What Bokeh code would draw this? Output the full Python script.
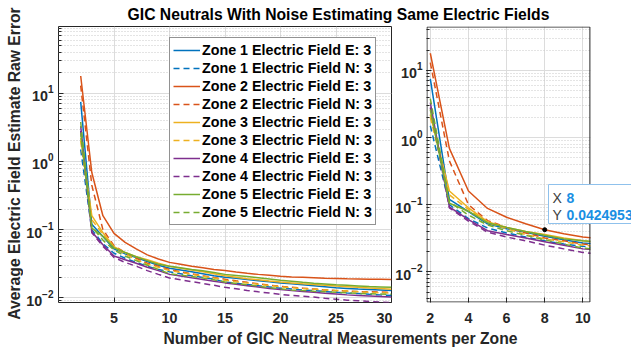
import math
from bokeh.plotting import figure
from bokeh.models import (Range1d, FixedTicker, Legend, LegendItem, Label, BoxAnnotation,
                          PolyAnnotation, ColumnDataSource)
from bokeh.layouts import column, row
from bokeh.embed import file_html
from bokeh.resources import INLINE

# ---------------- data ----------------
n_meas = list(range(2, 31))

zone1_E = [7.5, 0.12, 0.079, 0.052, 0.044, 0.039, 0.034, 0.030, 0.027,
           0.0255, 0.024, 0.0225, 0.021, 0.020, 0.0193, 0.0185, 0.0178, 0.0171, 0.0165,
           0.016, 0.0155, 0.015, 0.0145, 0.014, 0.0137, 0.0134, 0.0132, 0.013, 0.0128]
zone1_N = [1.5, 0.10, 0.062, 0.045, 0.038, 0.033, 0.029, 0.026, 0.024,
           0.0225, 0.021, 0.0198, 0.0187, 0.017, 0.0163, 0.0156, 0.015, 0.0144, 0.0138,
           0.0134, 0.013, 0.0127, 0.0123, 0.012, 0.0117, 0.0115, 0.0112, 0.011, 0.0108]
zone2_E = [18.0, 0.69, 0.16, 0.088, 0.065, 0.052, 0.0424953, 0.037, 0.033,
           0.031, 0.029, 0.0275, 0.026, 0.025, 0.0238, 0.0228, 0.022, 0.0213, 0.0206,
           0.0202, 0.0199, 0.0196, 0.0193, 0.0191, 0.0189, 0.0188, 0.0187, 0.0186, 0.0185]
zone2_N = [13.0, 0.45, 0.10, 0.058, 0.046, 0.038, 0.032, 0.029, 0.026,
           0.024, 0.0225, 0.021, 0.0198, 0.0187, 0.0177, 0.0168, 0.016, 0.0153, 0.0147,
           0.0142, 0.0138, 0.0134, 0.013, 0.0127, 0.0125, 0.0123, 0.0122, 0.0121, 0.012]
zone3_E = [2.2, 0.16, 0.09, 0.056, 0.046, 0.040, 0.036, 0.032, 0.029,
           0.027, 0.0255, 0.024, 0.0225, 0.021, 0.020, 0.019, 0.0183, 0.0176, 0.017,
           0.0165, 0.016, 0.0156, 0.0152, 0.0148, 0.0145, 0.0142, 0.0139, 0.0136, 0.0133]
zone3_N = [2.0, 0.14, 0.085, 0.054, 0.044, 0.036, 0.031, 0.028, 0.025,
           0.0235, 0.022, 0.0208, 0.0195, 0.018, 0.0172, 0.0165, 0.0158, 0.0151, 0.0145,
           0.014, 0.0136, 0.0133, 0.013, 0.0128, 0.0125, 0.0122, 0.012, 0.0118, 0.0117]
zone4_E = [3.3, 0.093, 0.060, 0.041, 0.036, 0.032, 0.028, 0.025, 0.022,
           0.0208, 0.0196, 0.0185, 0.0175, 0.0165, 0.0157, 0.015, 0.0143, 0.0137, 0.0132,
           0.0127, 0.0123, 0.012, 0.0116, 0.0113, 0.011, 0.0108, 0.0106, 0.0104, 0.0102]
zone4_N = [2.8, 0.09, 0.057, 0.039, 0.033, 0.029, 0.025, 0.022, 0.0195,
           0.0183, 0.0172, 0.0162, 0.0152, 0.0142, 0.0135, 0.0128, 0.0122, 0.0117, 0.0112,
           0.0108, 0.0105, 0.0102, 0.0098, 0.0095, 0.0092, 0.009, 0.0088, 0.0086, 0.0085]
zone5_E = [2.6, 0.105, 0.08, 0.054, 0.046, 0.040, 0.035, 0.031, 0.029,
           0.0275, 0.026, 0.0248, 0.0235, 0.022, 0.0212, 0.0204, 0.0196, 0.0188, 0.018,
           0.0174, 0.0168, 0.0163, 0.0159, 0.0155, 0.0152, 0.0149, 0.0146, 0.0144, 0.0142]
zone5_N = [3.8, 0.11, 0.07, 0.05, 0.041, 0.035, 0.030, 0.026, 0.0225,
           0.0215, 0.0205, 0.0195, 0.0183, 0.017, 0.0162, 0.0155, 0.0148, 0.0141, 0.0135,
           0.013, 0.0127, 0.0124, 0.0122, 0.012, 0.0118, 0.0116, 0.0114, 0.0113, 0.0112]

labels = ["Zone 1 Electric Field E: 3", "Zone 1 Electric Field N: 3",
          "Zone 2 Electric Field E: 3", "Zone 2 Electric Field N: 3",
          "Zone 3 Electric Field E: 3", "Zone 3 Electric Field N: 3",
          "Zone 4 Electric Field E: 3", "Zone 4 Electric Field N: 3",
          "Zone 5 Electric Field E: 3", "Zone 5 Electric Field N: 3"]
values = [zone1_E, zone1_N, zone2_E, zone2_N, zone3_E, zone3_N,
          zone4_E, zone4_N, zone5_E, zone5_N]
colors = ["#0072BD", "#0072BD", "#D95319", "#D95319", "#EDB120", "#EDB120",
          "#7E2F8E", "#7E2F8E", "#77AC30", "#77AC30"]
dashes = ["solid", "6 4"] * 5

left_xlim = (0, 30)
left_ylim = (0.0085, 96)
left_xticks = [5, 10, 15, 20, 25, 30]
right_xlim = (1.8, 10.37)
right_ylim = (0.0035, 45)
right_xticks = [2, 4, 6, 8, 10]
tip_x = 8
tip_y = zone2_E[n_meas.index(tip_x)]

title_text = "GIC Neutrals With Noise Estimating Same Electric Fields"
xlabel_text = "Number of GIC Neutral Measurements per Zone"
ylabel_text = "Average Electric Field Estimate Raw Error"

FONT = "Liberation Sans"
AX = "#262626"
GRID = "#dcdcdc"
MGRID = "#c8c8c8"

source = ColumnDataSource({"x": n_meas, **{f"s{i}": v for i, v in enumerate(values)}})


def style_axes(p, xticks, ystandoff):
    p.xaxis.ticker = FixedTicker(ticks=xticks, minor_ticks=[])
    for ax in p.axis:
        ax.axis_line_color = None
        ax.major_tick_in = 5
        ax.major_tick_out = 0
        ax.minor_tick_in = 3
        ax.minor_tick_out = 0
        ax.major_tick_line_color = AX
        ax.minor_tick_line_color = AX
        ax.major_label_text_font = FONT
        ax.major_label_text_font_style = "bold"
        ax.major_label_text_font_size = "14.3px"
        ax.major_label_text_color = AX
    p.xaxis.major_label_standoff = 10
    p.yaxis.major_label_standoff = ystandoff
    p.xgrid.grid_line_color = GRID
    p.ygrid.grid_line_color = GRID
    p.ygrid.minor_grid_line_color = MGRID
    p.ygrid.minor_grid_line_dash = "1 2"


# ---------------- left panel ----------------
left = figure(width=369, height=306, x_range=Range1d(*left_xlim), y_range=Range1d(*left_ylim),
              y_axis_type="log", toolbar_location=None, output_backend="svg",
              min_border_left=35, min_border_right=1, min_border_top=1, min_border_bottom=27)
style_axes(left, left_xticks, 5)
left.outline_line_color = AX

items = []
for i, lab in enumerate(labels):
    r = left.line("x", f"s{i}", source=source, line_color=colors[i], line_width=1.5,
                  line_dash=dashes[i])
    items.append(LegendItem(label=lab, renderers=[r]))

legend = Legend(items=items, location=(111, 77), border_line_color=AX, border_line_width=1,
                background_fill_color="white", background_fill_alpha=1.0,
                label_text_font=FONT, label_text_font_style="bold",
                label_text_font_size="14.3px", label_text_color="black",
                glyph_width=27, glyph_height=18, label_height=18, label_standoff=2,
                spacing=0, padding=3, margin=0)
left.add_layout(legend, "center")

# ---------------- right panel (frame runs to the window edge so the data tip can overhang) ----
R_FRAME_W, R_FRAME_H = 165, 276
px_per_unit = R_FRAME_W / (right_xlim[1] - right_xlim[0])
px_per_dec = R_FRAME_H / (math.log10(right_ylim[1]) - math.log10(right_ylim[0]))
right_xend = right_xlim[1] + 42 / px_per_unit
right = figure(width=239, height=306, x_range=Range1d(right_xlim[0], right_xend),
               y_range=Range1d(*right_ylim),
               y_axis_type="log", toolbar_location=None, output_backend="svg",
               min_border_left=32, min_border_right=0, min_border_top=3, min_border_bottom=27)
style_axes(right, right_xticks, 4)
right.outline_line_color = None
for i in range(len(labels)):
    right.line("x", f"s{i}", source=source, line_color=colors[i], line_width=1.5,
               line_dash=dashes[i])
right.scatter([tip_x], [tip_y], size=4, color="black")

# white mask beyond the axes' right limit
right.add_layout(BoxAnnotation(left=right_xlim[1] + 0.6 / px_per_unit, right=right_xend + 5,
                               bottom=right_ylim[0] / 10, top=right_ylim[1] * 10,
                               fill_color="white", fill_alpha=1.0,
                               line_color=None, line_alpha=0))
# axes box of the right panel, kept half a pixel inside the frame
bx0 = right_xlim[0] + 0.5 / px_per_unit
bx1 = right_xlim[1]
by0 = 10 ** (math.log10(right_ylim[0]) + 0.5 / px_per_dec)
by1 = 10 ** (math.log10(right_ylim[1]) - 0.5 / px_per_dec)
right.add_layout(PolyAnnotation(xs=[bx0, bx1, bx1, bx0], ys=[by0, by0, by1, by1],
                                fill_color=None, fill_alpha=0,
                                line_color=AX, line_alpha=1.0, line_width=1))

# data tip
right.add_layout(BoxAnnotation(left=122, right=260, bottom=79, top=118,
                               left_units="screen", right_units="screen",
                               bottom_units="screen", top_units="screen",
                               fill_color="white", fill_alpha=1.0,
                               line_color="#8fc1ec", line_alpha=1.0, line_width=1))
tip_style = dict(x_units="screen", y_units="screen", text_baseline="middle",
                 text_font=FONT, text_font_size="14px")
right.add_layout(Label(x=126, y=105, text="X", text_color="#404040", **tip_style))
right.add_layout(Label(x=140, y=105, text=f"{tip_x}", text_color="#1a8fe3",
                       text_font_style="bold", **tip_style))
right.add_layout(Label(x=126, y=88, text="Y", text_color="#404040", **tip_style))
right.add_layout(Label(x=140, y=88, text=f"{tip_y}", text_color="#1a8fe3",
                       text_font_style="bold", **tip_style))


# ---------------- text strips ----------------
def strip(width, height, text, cx, cy, color, angle=0.0):
    f = figure(width=width, height=height, x_range=(0, 1), y_range=(0, 1),
               toolbar_location=None, output_backend="svg",
               x_axis_location=None, y_axis_location=None, min_border=0)
    f.grid.visible = False
    f.outline_line_color = None
    f.add_layout(Label(x=cx, y=cy, x_units="screen", y_units="screen", text=text,
                       angle=angle, text_align="center", text_baseline="middle",
                       text_font=FONT, text_font_style="bold", text_font_size="15.7px",
                       text_color=color))
    return f


ylabel_fig = strip(23, 352, ylabel_text, 14, 189, AX, math.pi / 2)
title_fig = strip(608, 23, title_text, 315, 9, "black")
xlabel_fig = strip(608, 23, xlabel_text, 317, 14, AX)

layout = row(ylabel_fig, column(title_fig, row(left, right), xlabel_fig))
open("out.html", "w").write(file_html(layout, INLINE))
